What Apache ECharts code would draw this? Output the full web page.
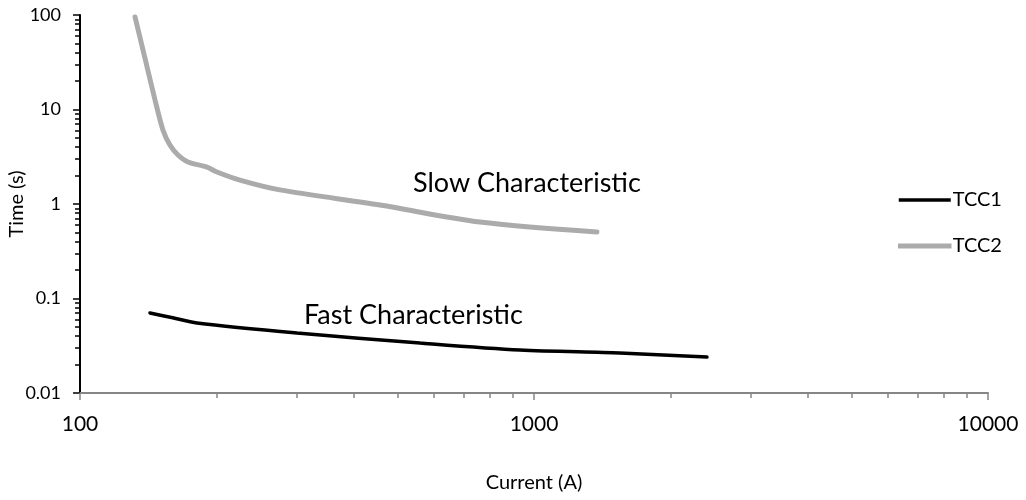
<!DOCTYPE html>
<html><head><meta charset="utf-8">
<script src="https://cdn.jsdelivr.net/npm/echarts@6/dist/echarts.min.js"></script>
<style>html,body{margin:0;padding:0;background:#fff}#c{width:1026px;height:500px}</style>
</head><body><div id="c"></div>
<script>
// TCC1 (fast characteristic)
const tcc1Current = [142.6, 160, 181, 300.6, 561, 931, 1546, 2404];
const tcc1Time = [0.0703, 0.0625, 0.0551, 0.0432, 0.0338, 0.0285, 0.0265, 0.0240];
// TCC2 (slow characteristic)
const tcc2Current = [132.2, 139.0, 146.3, 152.3, 157.8, 164.4, 172.9, 190.4, 200.3, 225, 275.7, 457.9, 760, 1376];
const tcc2Time = [95.2, 35.1, 12.6, 6.07, 4.21, 3.30, 2.78, 2.46, 2.18, 1.79, 1.41, 0.975, 0.645, 0.506];
const seriesNames = ['TCC1', 'TCC2'];
const yTickValues = [0.01, 0.1, 1, 10, 100];
const yTickLabels = ['0.01', '0.1', '1', '10', '100'];
const xMinorTicks = [200,300,400,500,600,700,800,900,2000,3000,4000,5000,6000,7000,8000,9000];
const yMinorTicks = [0.02,0.03,0.04,0.05,0.06,0.07,0.08,0.09,0.2,0.3,0.4,0.5,0.6,0.7,0.8,0.9,2,3,4,5,6,7,8,9,20,30,40,50,60,70,80,90];
const annotations = ['Slow Characteristic', 'Fast Characteristic'];

const FONT = 'Lato';
const zip = (a, b) => a.map((v, i) => [v, b[i]]);
const chart = echarts.init(document.getElementById('c'), null, {renderer: 'canvas'});
const xBase = {type: 'log', logBase: 10, min: 100, max: 10000, splitLine: {show: false}, gridIndex: 0};
const yBase = {type: 'log', logBase: 10, min: 0.01, max: 100, splitLine: {show: false}, gridIndex: 0};
function yLabel(v) {
  const n = Number(v);
  let txt = String(n);
  yTickValues.forEach((k, i) => { if (Math.abs(Math.log10(n) - Math.log10(k)) < 1e-6) txt = yTickLabels[i]; });
  return '{a|' + txt + '}';
}
chart.setOption({
  animation: false,
  backgroundColor: '#fff',
  textStyle: {fontFamily: FONT},
  grid: {left: 80, right: 38, top: 15, bottom: 107, containLabel: false, outerBoundsMode: 'none'},
  xAxis: [
    Object.assign({}, xBase, {
      name: 'Current (A)', nameLocation: 'middle', nameGap: 80, nameMoveOverlap: false,
      nameTextStyle: {fontFamily: FONT, fontSize: 20, color: '#000'},
      axisLine: {show: true, lineStyle: {color: '#868686', width: 2}},
      axisTick: {show: true, inside: false, length: 7, lineStyle: {color: '#868686', width: 1.5}},
      axisLabel: {show: true, margin: 21, fontFamily: FONT, fontSize: 21, color: '#000',
        formatter: v => String(Number(v))}
    }),
    Object.assign({}, xBase, {
      position: 'bottom',
      axisLine: {show: false},
      axisTick: {show: true, inside: false, length: 5, customValues: xMinorTicks, lineStyle: {color: '#868686', width: 1.5}},
      axisLabel: {show: false}
    })
  ],
  yAxis: [
    Object.assign({}, yBase, {
      name: 'Time (s)', nameLocation: 'middle', nameGap: 53, nameRotate: 90, nameMoveOverlap: false,
      nameTextStyle: {fontFamily: FONT, fontSize: 20, color: '#000'},
      axisLine: {show: true, lineStyle: {color: '#000', width: 2}},
      axisTick: {show: true, inside: false, length: 7, lineStyle: {color: '#000', width: 1.5}},
      axisLabel: {show: true, margin: 59, align: 'left', fontFamily: FONT, fontSize: 18, color: '#000',
        formatter: yLabel,
        rich: {a: {width: 40, align: 'right', fontFamily: FONT, fontSize: 18, color: '#000'}}}
    }),
    Object.assign({}, yBase, {
      position: 'left', offset: 0,
      axisLine: {show: false},
      axisTick: {show: true, inside: false, length: 5, customValues: yMinorTicks, lineStyle: {color: '#000', width: 1.5}},
      axisLabel: {show: false}
    })
  ],
  legend: {
    orient: 'vertical', left: 898, top: 190, padding: 0,
    itemWidth: 52, itemHeight: 3.5, itemGap: 26,
    textStyle: {fontFamily: FONT, fontSize: 20, color: '#000', padding: [0,0,0,-3]},
    data: [
      {name: seriesNames[0], icon: 'rect', itemStyle: {color: '#000', borderWidth: 0}},
      {name: seriesNames[1], icon: 'rect', itemStyle: {color: '#ababab', borderColor: '#ababab', borderWidth: 1.5}}
    ]
  },
  series: [
    {name: seriesNames[0], type: 'line', xAxisIndex: 0, yAxisIndex: 0, symbol: 'none',
     smooth: 0.3,
     lineStyle: {color: '#000', width: 3.5, cap: 'round'}, itemStyle: {color: '#000'},
     data: zip(tcc1Current, tcc1Time)},
    {name: seriesNames[1], type: 'line', xAxisIndex: 0, yAxisIndex: 0, symbol: 'none',
     smooth: 0.3,
     lineStyle: {color: '#ababab', width: 5, cap: 'round'}, itemStyle: {color: '#ababab'},
     data: zip(tcc2Current, tcc2Time)}
  ],
  graphic: [
    {type: 'text', left: 413, top: 170, style: {text: annotations[0], font: '27px ' + FONT, fill: '#000'}},
    {type: 'text', left: 304, top: 302, style: {text: annotations[1], font: '27px ' + FONT, fill: '#000'}}
  ]
});
</script>
</body></html>
